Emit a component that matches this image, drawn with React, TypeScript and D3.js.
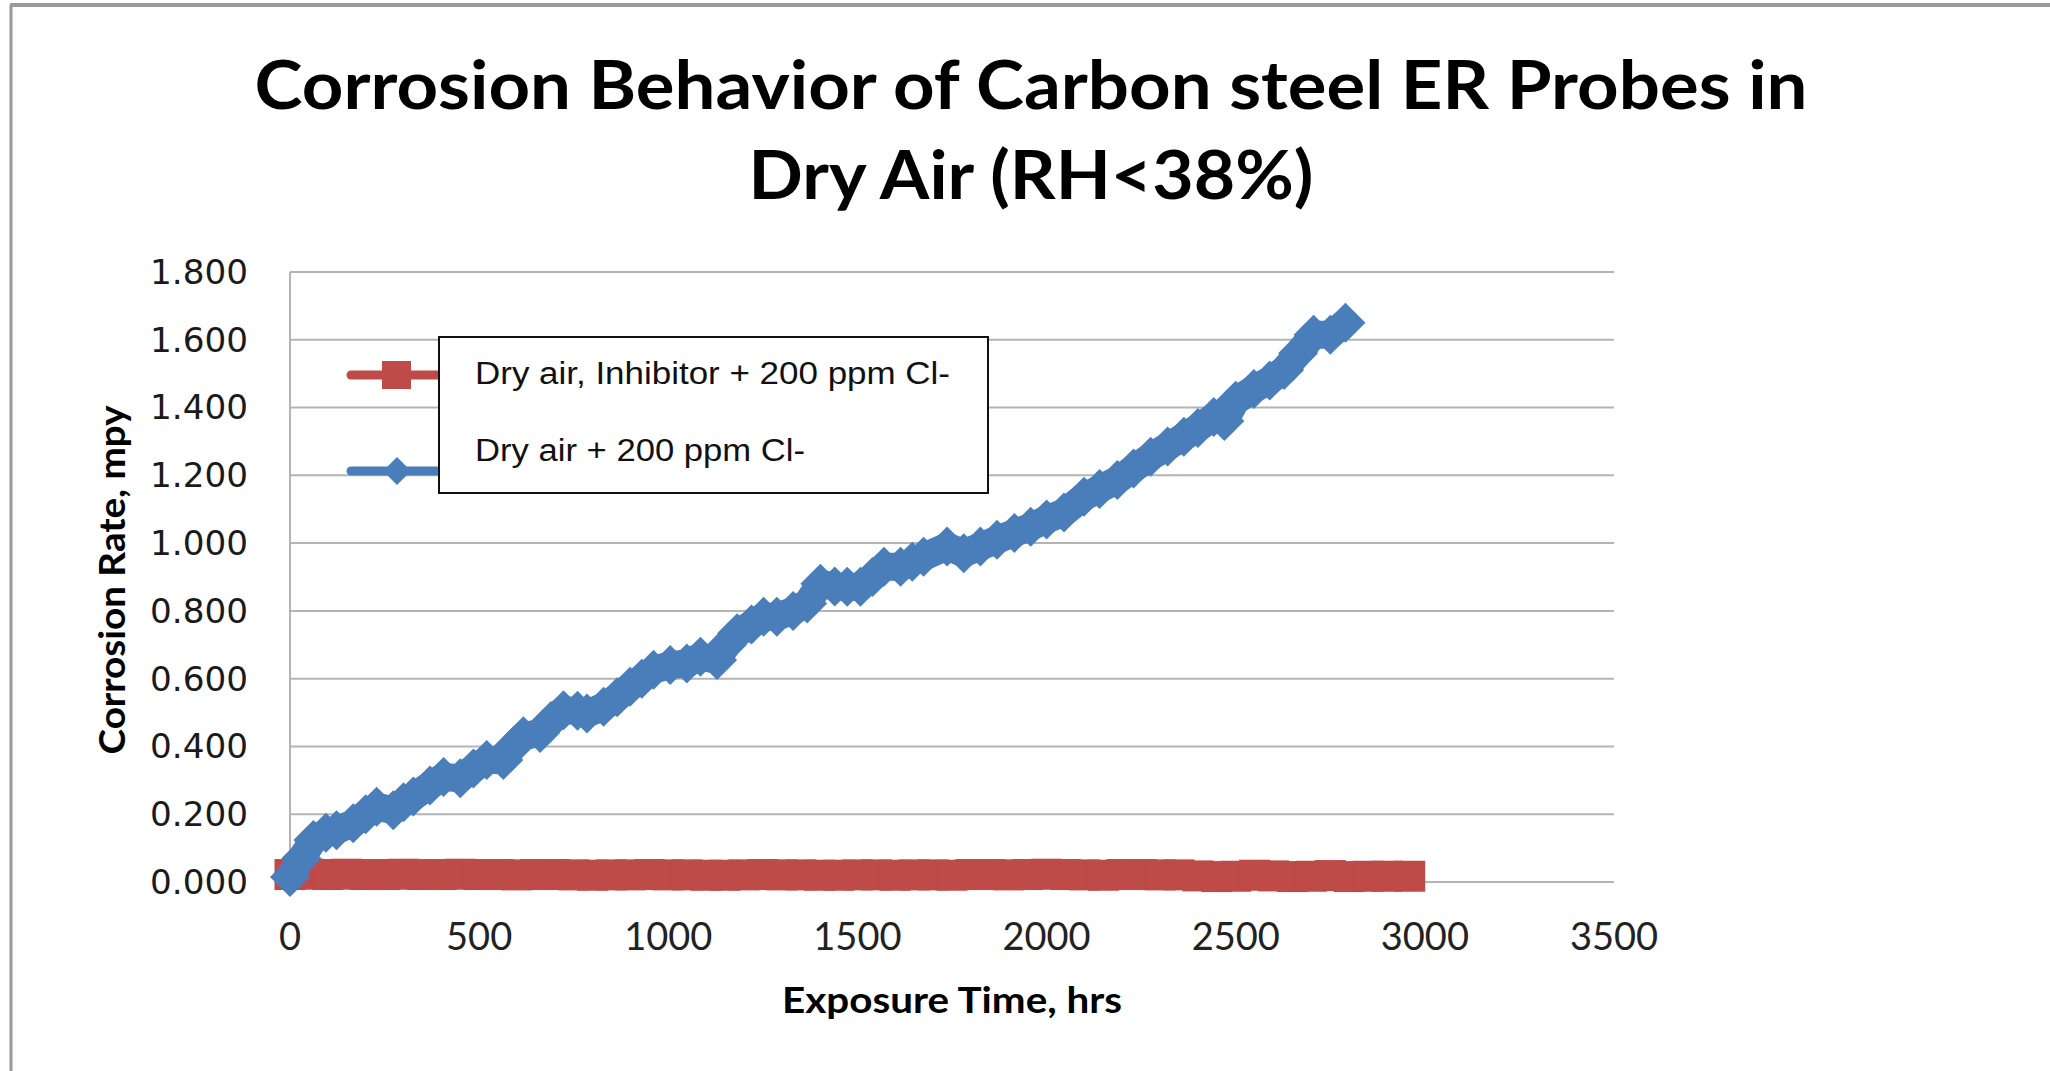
import { useMemo } from "react";
import { scaleLinear, line as d3Line, format } from "d3";

// Dry air + 200 ppm Cl- (blue diamonds)
const BLUE_T = [0, 30, 62, 95, 123, 167, 200, 229, 273, 300, 326, 370, 406, 450, 485, 520, 564, 590, 617, 661, 690, 723, 760, 785, 829, 865, 899, 930, 961, 1005, 1049, 1085, 1129, 1155, 1182, 1220, 1252, 1287, 1330, 1367, 1402, 1440, 1473, 1508, 1540, 1570, 1614, 1645, 1675, 1737, 1781, 1825, 1869, 1915, 1958, 2000, 2046, 2099, 2140, 2187, 2230, 2275, 2320, 2363, 2400, 2442, 2470, 2500, 2548, 2590, 2628, 2665, 2706, 2750, 2790];
const BLUE_V = [0.015, 0.07, 0.124, 0.145, 0.153, 0.173, 0.2, 0.222, 0.212, 0.235, 0.252, 0.285, 0.31, 0.306, 0.335, 0.36, 0.36, 0.4, 0.43, 0.44, 0.475, 0.507, 0.505, 0.497, 0.517, 0.545, 0.576, 0.6, 0.626, 0.64, 0.645, 0.665, 0.655, 0.7, 0.734, 0.76, 0.783, 0.783, 0.8, 0.822, 0.88, 0.872, 0.871, 0.871, 0.9, 0.93, 0.93, 0.945, 0.96, 0.99, 0.97, 0.99, 1.01, 1.03, 1.048, 1.07, 1.09, 1.137, 1.16, 1.186, 1.22, 1.255, 1.285, 1.314, 1.34, 1.372, 1.36, 1.42, 1.455, 1.48, 1.511, 1.56, 1.615, 1.615, 1.65];

// Dry air, Inhibitor + 200 ppm Cl- (red squares)
const RED_T = [0, 50, 100, 150, 200, 250, 300, 350, 400, 450, 500, 550, 600, 650, 700, 750, 800, 850, 900, 950, 1000, 1050, 1100, 1150, 1200, 1250, 1300, 1350, 1400, 1450, 1500, 1550, 1600, 1650, 1700, 1750, 1800, 1850, 1900, 1950, 2000, 2050, 2100, 2150, 2200, 2250, 2300, 2350, 2400, 2450, 2500, 2550, 2600, 2650, 2700, 2750, 2800, 2850, 2900, 2960];
const RED_V = [0.022, 0.023, 0.022, 0.023, 0.022, 0.022, 0.023, 0.022, 0.022, 0.023, 0.022, 0.022, 0.021, 0.022, 0.022, 0.021, 0.02, 0.021, 0.021, 0.022, 0.021, 0.021, 0.02, 0.02, 0.021, 0.022, 0.021, 0.021, 0.02, 0.02, 0.021, 0.021, 0.02, 0.021, 0.021, 0.02, 0.022, 0.022, 0.021, 0.022, 0.023, 0.022, 0.021, 0.02, 0.022, 0.022, 0.021, 0.021, 0.018, 0.016, 0.017, 0.02, 0.018, 0.016, 0.017, 0.019, 0.016, 0.017, 0.017, 0.017];

const Y_TICKS = [0, 0.2, 0.4, 0.6, 0.8, 1.0, 1.2, 1.4, 1.6, 1.8];
const X_TICKS = [0, 500, 1000, 1500, 2000, 2500, 3000, 3500];

const TITLE_LINES = ["Corrosion Behavior of Carbon steel ER Probes in", "Dry Air (RH<38%)"];
const LEGEND_LABELS = ["Dry air, Inhibitor + 200 ppm Cl-", "Dry air + 200 ppm Cl-"];

const BLUE = "#4A7EBB";
const RED = "#BE4B48";
const GRID = "#b4b4b4";

const W = 2050;
const H = 1071;
const PLOT = { left: 290, right: 1614, top: 272, bottom: 882 };

export default function App() {
  const x = useMemo(() => scaleLinear().domain([0, 3500]).range([PLOT.left, PLOT.right]), []);
  const y = useMemo(() => scaleLinear().domain([0, 1.8]).range([PLOT.bottom, PLOT.top]), []);

  const bluePts = BLUE_T.map((t, i) => [x(t), y(BLUE_V[i])] as [number, number]);
  const redPts = RED_T.map((t, i) => [x(t), y(RED_V[i])] as [number, number]);
  const lineGen = d3Line();

  const fmt = format(".3f");
  const sq = 31;
  const dm = 20;
  const diamond = (cx: number, cy: number, h: number) =>
    `M${cx},${cy - h}L${cx + h},${cy}L${cx},${cy + h}L${cx - h},${cy}Z`;

  return (
    <svg
      width={W}
      height={H}
      viewBox={`0 0 ${W} ${H}`}
      style={{ position: "absolute", left: 0, top: 0, background: "#fff" }}
    >
      <rect x={0} y={0} width={W} height={H} fill="#fff" />
      {/* outer frame */}
      <line x1={10} y1={5} x2={W} y2={5} stroke="#9a9a9a" strokeWidth={4} />
      <line x1={11} y1={5} x2={11} y2={H} stroke="#9a9a9a" strokeWidth={3} />

      {/* title */}
      <g fontFamily="Lato, 'Open Sans', sans-serif" fontWeight="bold" fill="#000">
        <text x={1031} y={109} fontSize={66} textAnchor="middle" textLength={1553} lengthAdjust="spacingAndGlyphs">
          {TITLE_LINES[0]}
        </text>
        <text x={1031} y={199} fontSize={66} textAnchor="middle" textLength={565} lengthAdjust="spacingAndGlyphs">
          {TITLE_LINES[1]}
        </text>
      </g>

      {/* gridlines */}
      {Y_TICKS.slice(1).map((v) => (
        <line key={v} x1={PLOT.left} x2={PLOT.right} y1={y(v)} y2={y(v)} stroke={GRID} strokeWidth={2} />
      ))}
      <line x1={PLOT.left} x2={PLOT.left} y1={PLOT.top} y2={PLOT.bottom} stroke={GRID} strokeWidth={2} />
      <line x1={PLOT.left} x2={PLOT.right} y1={PLOT.bottom} y2={PLOT.bottom} stroke={GRID} strokeWidth={2} />

      {/* y tick labels */}
      <g fontFamily="'DejaVu Sans', Verdana, sans-serif" fontSize={33} fill="#1a1a1a" textAnchor="end">
        {Y_TICKS.map((v) => (
          <text key={v} x={248} y={y(v)} dy="0.36em" textLength={98} lengthAdjust="spacingAndGlyphs">
            {fmt(v)}
          </text>
        ))}
      </g>

      {/* x tick labels */}
      <g fontFamily="Lato, 'Open Sans', sans-serif" fontSize={38} fill="#222" textAnchor="middle">
        {X_TICKS.map((v) => (
          <text key={v} x={x(v)} y={950}>
            {v}
          </text>
        ))}
      </g>

      {/* axis titles */}
      <g fontFamily="Lato, 'Open Sans', sans-serif" fontWeight="bold" fill="#000" fontSize={36}>
        <text x={952} y={1013} textAnchor="middle" textLength={340} lengthAdjust="spacingAndGlyphs">
          Exposure Time, hrs
        </text>
        <text
          transform="translate(125,580) rotate(-90)"
          textAnchor="middle"
          textLength={349}
          lengthAdjust="spacingAndGlyphs"
        >
          Corrosion Rate, mpy
        </text>
      </g>

      {/* red series */}
      <path d={lineGen(redPts) ?? ""} fill="none" stroke={RED} strokeWidth={12} strokeLinejoin="round" />
      {redPts.map(([px, py], i) => (
        <rect key={i} x={px - sq / 2} y={py - sq / 2} width={sq} height={sq} fill={RED} />
      ))}

      {/* blue series */}
      <path d={lineGen(bluePts) ?? ""} fill="none" stroke={BLUE} strokeWidth={28} strokeLinejoin="round" strokeLinecap="round" />
      {bluePts.map(([px, py], i) => (
        <path key={i} d={diamond(px, py, dm)} fill={BLUE} />
      ))}

      {/* legend (Excel legend, partly covered by a text box) */}
      <line x1={351} x2={445} y1={375} y2={375} stroke={RED} strokeWidth={9} strokeLinecap="round" />
      <rect x={382} y={361} width={29} height={28} fill={RED} />
      <line x1={351} x2={445} y1={471} y2={471} stroke={BLUE} strokeWidth={9} strokeLinecap="round" />
      <path d={diamond(397, 471, 14)} fill={BLUE} />

      <rect x={439} y={337} width={549} height={156} fill="#fff" stroke="#111" strokeWidth={2} />
      <g fontFamily="'Liberation Sans', Arial, sans-serif" fontSize={31} fill="#111">
        <text x={475} y={384} textLength={475} lengthAdjust="spacingAndGlyphs">
          {LEGEND_LABELS[0]}
        </text>
        <text x={475} y={461} textLength={330} lengthAdjust="spacingAndGlyphs">
          {LEGEND_LABELS[1]}
        </text>
      </g>
    </svg>
  );
}
